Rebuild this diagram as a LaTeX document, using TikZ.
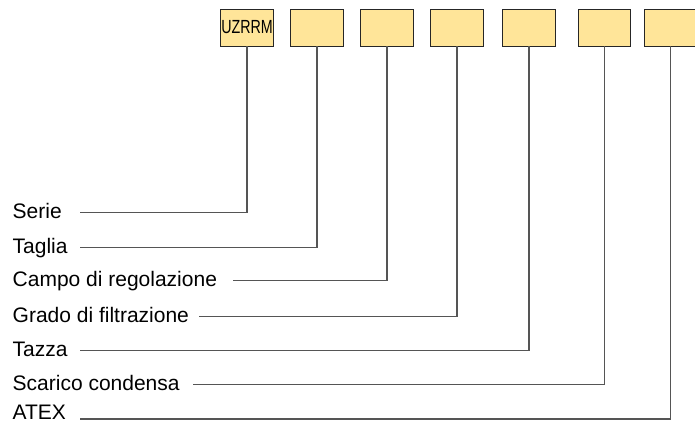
\documentclass[tikz,border=0pt]{standalone}
\usepackage{fontspec}
\setmainfont{Liberation Sans}
\definecolor{boxfill}{HTML}{FFE599}
\definecolor{linecol}{HTML}{555555}
\begin{document}
\begin{tikzpicture}[x=1pt,y=-1pt,
  codebox/.style={draw=black!85,line width=0.9pt,fill=boxfill,minimum width=52.5pt,minimum height=37pt,inner sep=0pt,anchor=center},
  lab/.style={anchor=base west,inner sep=0pt,font=\fontsize{21}{22}\selectfont},
  lead/.style={draw=linecol,line width=1.1pt}]
\useasboundingbox (0,0) rectangle (695,423);
\clip (0,0) rectangle (695,423);
\node[codebox] (b1) at (247,27.5) {\fontsize{19}{19}\selectfont\scalebox{0.75}[1]{UZRRM}};
\node[codebox] (b2) at (317,27.5) {};
\node[codebox] (b3) at (387,27.5) {};
\node[codebox] (b4) at (457,27.5) {};
\node[codebox] (b5) at (529,27.5) {};
\node[codebox] (b6) at (604.5,27.5) {};
\node[codebox] (b7) at (670.7,27.5) {};
\node[lab] (t1) at (12.5,218.3) {Serie};
\node[lab] (t2) at (12.5,253.3) {Taglia};
\node[lab] (t3) at (12.5,286.3) {Campo di regolazione};
\node[lab] (t4) at (12.5,322.3) {Grado di filtrazione};
\node[lab] (t5) at (12.5,356.3) {Tazza};
\node[lab] (t6) at (12.5,390) {Scarico condensa};
\node[lab] (t7) at (12.5,419.5) {ATEX};
\coordinate (s1) at (80,212.7);
\coordinate (s2) at (80,247.7);
\coordinate (s3) at (233,280.7);
\coordinate (s4) at (199,316.7);
\coordinate (s5) at (80,350.7);
\coordinate (s6) at (193,384.3);
\coordinate (s7) at (80,419);
\foreach \i in {1,...,7}{
  \draw[lead] (s\i) -- (s\i -| b\i.south) -- (b\i.south);
}
\end{tikzpicture}
\end{document}
